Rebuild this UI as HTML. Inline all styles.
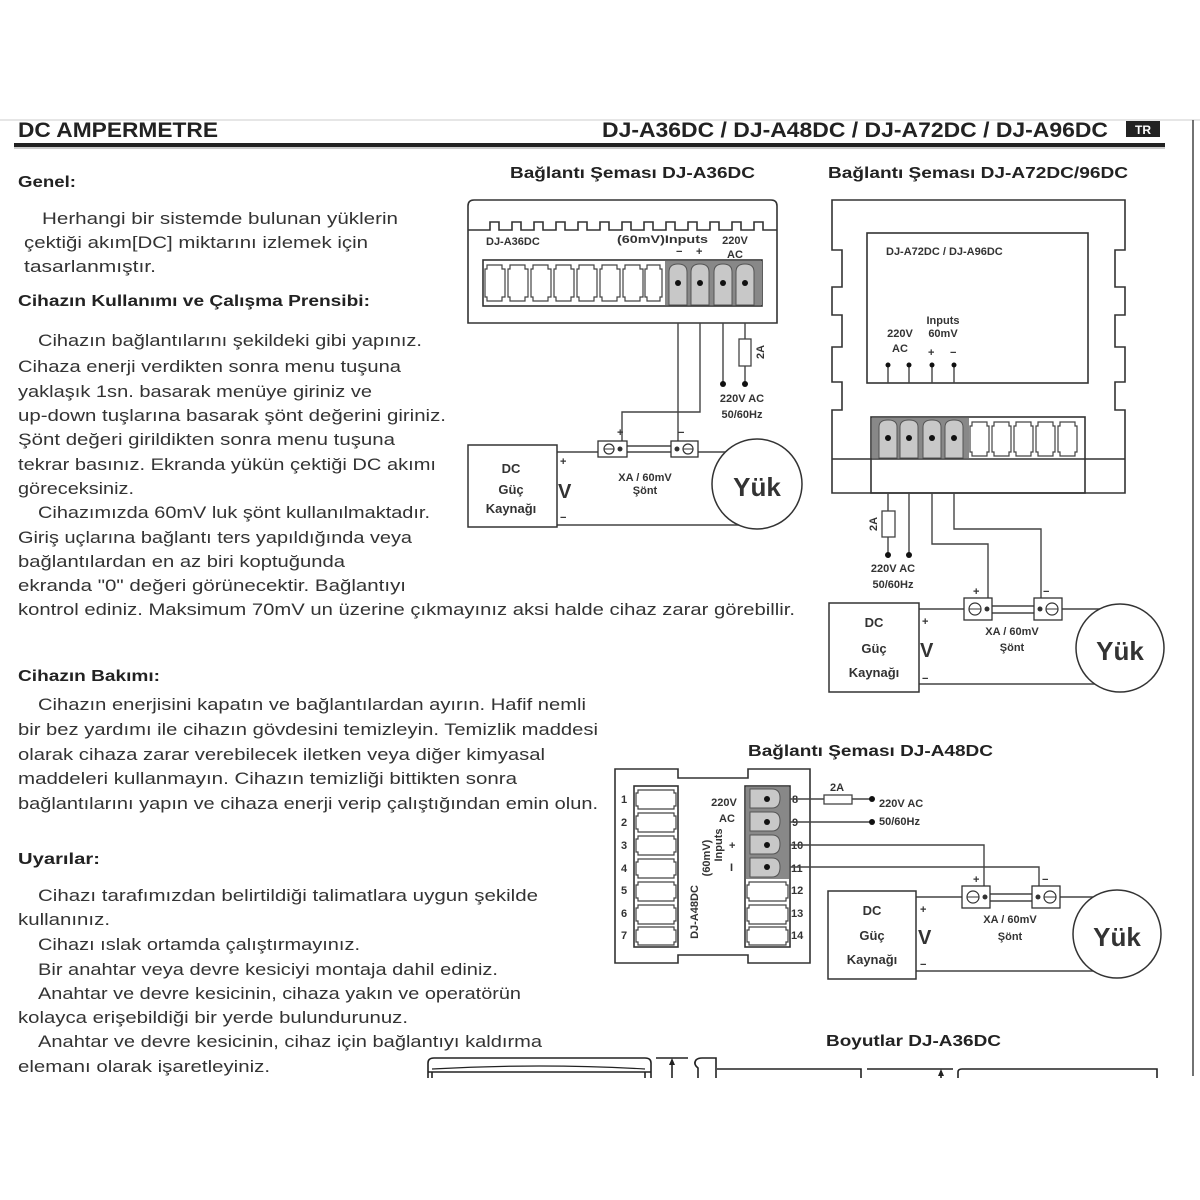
<!DOCTYPE html>
<html><head><meta charset="utf-8"><style>
html,body{margin:0;padding:0;background:#fff}
svg{display:block}
text{font-family:"Liberation Sans",sans-serif}
.b{font-size:17px;fill:#333}
.h{font-size:16px;font-weight:bold;fill:#222}
.t{font-size:16px;font-weight:bold;fill:#222}
.s{font-size:11px;font-weight:bold;fill:#333}
.m{font-size:13px;font-weight:bold;fill:#333}
.ln{stroke:#333;stroke-width:1.6;fill:none}
.w{stroke:#444;stroke-width:1.4;fill:none}
</style></head><body>
<svg width="1200" height="1200" viewBox="0 0 1200 1200" xmlns="http://www.w3.org/2000/svg">
<rect width="1200" height="1200" fill="#fff"/>
<line x1="0" y1="120" x2="1200" y2="120" stroke="#e6e6e6" stroke-width="2"/>
<line x1="1193" y1="120" x2="1193" y2="1076" stroke="#444" stroke-width="1.5"/>
<!-- header -->
<text x="18" y="137" font-size="21" font-weight="bold" fill="#222" textLength="200" lengthAdjust="spacingAndGlyphs">DC AMPERMETRE</text>
<text x="602" y="137" font-size="21" font-weight="bold" fill="#222" textLength="506" lengthAdjust="spacingAndGlyphs">DJ-A36DC / DJ-A48DC / DJ-A72DC / DJ-A96DC</text>
<rect x="1126" y="121" width="34" height="16" fill="#222"/>
<text x="1143" y="134" font-size="12" font-weight="bold" fill="#fff" text-anchor="middle">TR</text>
<rect x="14" y="143" width="1151" height="4" fill="#222"/>
<line x1="14" y1="148" x2="1165" y2="148" stroke="#999" stroke-width="1"/>

<!-- left text -->
<g class="b">
<text class="h" x="18" y="187" textLength="58" lengthAdjust="spacingAndGlyphs">Genel:</text>
<text x="42" y="224" textLength="356" lengthAdjust="spacingAndGlyphs">Herhangi bir sistemde bulunan yüklerin</text>
<text x="24" y="248" textLength="344" lengthAdjust="spacingAndGlyphs">çektiği akım[DC] miktarını izlemek için</text>
<text x="24" y="272" textLength="132" lengthAdjust="spacingAndGlyphs">tasarlanmıştır.</text>
<text class="h" x="18" y="306" textLength="352" lengthAdjust="spacingAndGlyphs">Cihazın Kullanımı ve Çalışma Prensibi:</text>
<text x="38" y="346" textLength="384" lengthAdjust="spacingAndGlyphs">Cihazın bağlantılarını şekildeki gibi yapınız.</text>
<text x="18" y="372" textLength="383" lengthAdjust="spacingAndGlyphs">Cihaza enerji verdikten sonra menu tuşuna</text>
<text x="18" y="397" textLength="354" lengthAdjust="spacingAndGlyphs">yaklaşık 1sn. basarak menüye giriniz ve</text>
<text x="18" y="421" textLength="428" lengthAdjust="spacingAndGlyphs">up-down tuşlarına basarak şönt değerini giriniz.</text>
<text x="18" y="445" textLength="377" lengthAdjust="spacingAndGlyphs">Şönt değeri girildikten sonra menu tuşuna</text>
<text x="18" y="470" textLength="418" lengthAdjust="spacingAndGlyphs">tekrar basınız. Ekranda yükün çektiği DC akımı</text>
<text x="18" y="494" textLength="116" lengthAdjust="spacingAndGlyphs">göreceksiniz.</text>
<text x="38" y="518" textLength="392" lengthAdjust="spacingAndGlyphs">Cihazımızda 60mV luk şönt kullanılmaktadır.</text>
<text x="18" y="543" textLength="394" lengthAdjust="spacingAndGlyphs">Giriş uçlarına bağlantı ters yapıldığında veya</text>
<text x="18" y="567" textLength="327" lengthAdjust="spacingAndGlyphs">bağlantılardan en az biri koptuğunda</text>
<text x="18" y="591" textLength="388" lengthAdjust="spacingAndGlyphs">ekranda "0" değeri görünecektir. Bağlantıyı</text>
<text x="18" y="615" textLength="777" lengthAdjust="spacingAndGlyphs">kontrol ediniz. Maksimum 70mV un üzerine çıkmayınız aksi halde cihaz zarar görebillir.</text>
<text class="h" x="18" y="681" textLength="142" lengthAdjust="spacingAndGlyphs">Cihazın Bakımı:</text>
<text x="38" y="710" textLength="548" lengthAdjust="spacingAndGlyphs">Cihazın enerjisini kapatın ve bağlantılardan ayırın. Hafif nemli</text>
<text x="18" y="735" textLength="580" lengthAdjust="spacingAndGlyphs">bir bez yardımı ile cihazın gövdesini temizleyin. Temizlik maddesi</text>
<text x="18" y="760" textLength="527" lengthAdjust="spacingAndGlyphs">olarak cihaza zarar verebilecek iletken veya diğer kimyasal</text>
<text x="18" y="784" textLength="499" lengthAdjust="spacingAndGlyphs">maddeleri kullanmayın. Cihazın temizliği bittikten sonra</text>
<text x="18" y="809" textLength="580" lengthAdjust="spacingAndGlyphs">bağlantılarını yapın ve cihaza enerji verip çalıştığından emin olun.</text>
<text class="h" x="18" y="864" textLength="82" lengthAdjust="spacingAndGlyphs">Uyarılar:</text>
<text x="38" y="901" textLength="500" lengthAdjust="spacingAndGlyphs">Cihazı tarafımızdan belirtildiği talimatlara uygun şekilde</text>
<text x="18" y="925" textLength="92" lengthAdjust="spacingAndGlyphs">kullanınız.</text>
<text x="38" y="950" textLength="322" lengthAdjust="spacingAndGlyphs">Cihazı ıslak ortamda çalıştırmayınız.</text>
<text x="38" y="975" textLength="460" lengthAdjust="spacingAndGlyphs">Bir anahtar veya devre kesiciyi montaja dahil ediniz.</text>
<text x="38" y="999" textLength="483" lengthAdjust="spacingAndGlyphs">Anahtar ve devre kesicinin, cihaza yakın ve operatörün</text>
<text x="18" y="1023" textLength="390" lengthAdjust="spacingAndGlyphs">kolayca erişebildiği bir yerde bulundurunuz.</text>
<text x="38" y="1047" textLength="504" lengthAdjust="spacingAndGlyphs">Anahtar ve devre kesicinin, cihaz için bağlantıyı kaldırma</text>
<text x="18" y="1072" textLength="252" lengthAdjust="spacingAndGlyphs">elemanı olarak işaretleyiniz.</text>
</g>

<!-- titles -->
<text class="t" x="510" y="178" textLength="245" lengthAdjust="spacingAndGlyphs">Bağlantı Şeması DJ-A36DC</text>
<text class="t" x="828" y="178" textLength="300" lengthAdjust="spacingAndGlyphs">Bağlantı Şeması DJ-A72DC/96DC</text>
<text class="t" x="748" y="756" textLength="245" lengthAdjust="spacingAndGlyphs">Bağlantı Şeması DJ-A48DC</text>
<text class="t" x="826" y="1046" textLength="175" lengthAdjust="spacingAndGlyphs">Boyutlar DJ-A36DC</text>

<!-- ===== A36DC ===== -->
<g>
<path class="ln" d="M468 323 V206 Q468 200 474 200 H771 Q777 200 777 206 V323 Z"/>
<path class="ln" d="M468 230 H490 V222 H499 V230 H512 V222 H521 V230 H534 V222 H543 V230 H556 V222 H565 V230 H578 V222 H587 V230 H600 V222 H609 V230 H622 V222 H631 V230 H644 V222 H653 V230 H666 V222 H675 V230 H688 V222 H697 V230 H710 V222 H719 V230 H732 V222 H741 V230 H754 V222 H763 V230 H777"/>
<rect x="483" y="260" width="279" height="46" class="ln"/>
<g fill="none" stroke="#444" stroke-width="1.2">
<path d="M487 265 h15 v4 h3 v28 h-3 v4 h-15 v-4 h-2 v-28 h2z"/>
<path d="M510 265 h15 v4 h3 v28 h-3 v4 h-15 v-4 h-2 v-28 h2z"/>
<path d="M533 265 h15 v4 h3 v28 h-3 v4 h-15 v-4 h-2 v-28 h2z"/>
<path d="M556 265 h15 v4 h3 v28 h-3 v4 h-15 v-4 h-2 v-28 h2z"/>
<path d="M579 265 h15 v4 h3 v28 h-3 v4 h-15 v-4 h-2 v-28 h2z"/>
<path d="M602 265 h15 v4 h3 v28 h-3 v4 h-15 v-4 h-2 v-28 h2z"/>
<path d="M625 265 h15 v4 h3 v28 h-3 v4 h-15 v-4 h-2 v-28 h2z"/>
<path d="M647 265 h13 v4 h2 v28 h-2 v4 h-13 v-4 h-2 v-28 h2z"/>
</g>
<rect x="665" y="261" width="97" height="44" fill="#888"/>
<g fill="#c8c8c8" stroke="#555" stroke-width="1">
<path d="M669 305 V272 Q669 264 678 264 Q687 264 687 272 V305Z"/>
<path d="M691 305 V272 Q691 264 700 264 Q709 264 709 272 V305Z"/>
<path d="M714 305 V272 Q714 264 723 264 Q732 264 732 272 V305Z"/>
<path d="M736 305 V272 Q736 264 745 264 Q754 264 754 272 V305Z"/>
</g>
<g fill="#111"><circle cx="678" cy="283" r="3"/><circle cx="700" cy="283" r="3"/><circle cx="723" cy="283" r="3"/><circle cx="745" cy="283" r="3"/></g>
<text class="s" x="486" y="245">DJ-A36DC</text>
<text class="s" x="617" y="243" textLength="91" lengthAdjust="spacingAndGlyphs">(60mV)Inputs</text>
<text class="s" x="676" y="255">−</text><text class="s" x="696" y="255">+</text>
<text class="s" x="735" y="244" text-anchor="middle">220V</text>
<text class="s" x="735" y="258" text-anchor="middle">AC</text>
<path class="w" d="M678 323 V452 M700 323 V412 H622 V441 M723 323 V384 M745 323 V384"/>
<rect x="739" y="339" width="12" height="27" fill="#fff" stroke="#444" stroke-width="1.3"/>
<text class="s" x="0" y="0" transform="translate(764,352) rotate(-90)" text-anchor="middle">2A</text>
<circle cx="723" cy="384" r="3" fill="#111"/><circle cx="745" cy="384" r="3" fill="#111"/>
<text class="s" x="742" y="402" text-anchor="middle">220V AC</text>
<text class="s" x="742" y="418" text-anchor="middle">50/60Hz</text>
<text class="s" x="617" y="436">+</text><text class="s" x="678" y="436">−</text>
<path class="w" d="M557 452 H598 M627 446 H671 M627 452 H671 M698 452 H740 M557 525 H757"/>
<rect x="598" y="441" width="29" height="16" fill="#fff" stroke="#333" stroke-width="1.3"/>
<circle cx="609" cy="449" r="5" fill="none" stroke="#333" stroke-width="1.2"/><line x1="604" y1="449" x2="614" y2="449" stroke="#333"/><circle cx="620" cy="449" r="2.5" fill="#333"/>
<rect x="671" y="441" width="27" height="16" fill="#fff" stroke="#333" stroke-width="1.3"/>
<circle cx="688" cy="449" r="5" fill="none" stroke="#333" stroke-width="1.2"/><line x1="683" y1="449" x2="693" y2="449" stroke="#333"/><circle cx="677" cy="449" r="2.5" fill="#333"/>
<text class="s" x="645" y="481" text-anchor="middle">XA / 60mV</text>
<text class="s" x="645" y="494" text-anchor="middle">Şönt</text>
<rect x="468" y="445" width="89" height="82" fill="#fff" stroke="#333" stroke-width="1.5"/>
<text class="m" x="511" y="473" text-anchor="middle" font-size="16">DC</text>
<text class="m" x="511" y="494" text-anchor="middle" font-size="16">Güç</text>
<text class="m" x="511" y="513" text-anchor="middle" font-size="16">Kaynağı</text>
<text class="s" x="560" y="465">+</text>
<text x="558" y="498" font-size="20" font-weight="bold" fill="#333">V</text>
<text class="s" x="560" y="521">−</text>
<circle cx="757" cy="484" r="45" fill="#fff" stroke="#333" stroke-width="1.5"/>
<text x="757" y="496" font-size="26" font-weight="bold" fill="#333" text-anchor="middle">Yük</text>
</g>

<!-- ===== A72DC ===== -->
<g>
<path class="ln" d="M832 200 H1125 V250 H1115 V287 H1125 V315 H1115 V347 H1125 V382 H1115 V410 H1125 V493 H832 V410 H842 V382 H832 V347 H842 V315 H832 V287 H842 V250 H832 Z"/>
<rect x="867" y="233" width="221" height="150" class="ln"/>
<text class="s" x="886" y="255">DJ-A72DC / DJ-A96DC</text>
<text class="s" x="900" y="337" text-anchor="middle">220V</text>
<text class="s" x="900" y="352" text-anchor="middle">AC</text>
<text class="s" x="943" y="324" text-anchor="middle">Inputs</text>
<text class="s" x="943" y="337" text-anchor="middle">60mV</text>
<text class="s" x="928" y="356">+</text><text class="s" x="950" y="356">−</text>
<path class="w" d="M888 365 V383 M909 365 V383 M932 365 V383 M954 365 V383"/>
<g fill="#111"><circle cx="888" cy="365" r="2.5"/><circle cx="909" cy="365" r="2.5"/><circle cx="932" cy="365" r="2.5"/><circle cx="954" cy="365" r="2.5"/></g>
<line class="ln" x1="832" y1="459" x2="1125" y2="459"/>
<rect x="871" y="417" width="214" height="76" class="ln"/>
<rect x="872" y="418" width="97" height="40" fill="#888"/>
<g fill="#c8c8c8" stroke="#555" stroke-width="1">
<path d="M879 458 V427 Q879 420 888 420 Q897 420 897 427 V458Z"/>
<path d="M900 458 V427 Q900 420 909 420 Q918 420 918 427 V458Z"/>
<path d="M923 458 V427 Q923 420 932 420 Q941 420 941 427 V458Z"/>
<path d="M945 458 V427 Q945 420 954 420 Q963 420 963 427 V458Z"/>
</g>
<g fill="#111"><circle cx="888" cy="438" r="3"/><circle cx="909" cy="438" r="3"/><circle cx="932" cy="438" r="3"/><circle cx="954" cy="438" r="3"/></g>
<g fill="none" stroke="#444" stroke-width="1.2">
<path d="M972 422 h15 v4 h2 v26 h-2 v4 h-15 v-4 h-2 v-26 h2z"/>
<path d="M994 422 h15 v4 h2 v26 h-2 v4 h-15 v-4 h-2 v-26 h2z"/>
<path d="M1016 422 h15 v4 h2 v26 h-2 v4 h-15 v-4 h-2 v-26 h2z"/>
<path d="M1038 422 h15 v4 h2 v26 h-2 v4 h-15 v-4 h-2 v-26 h2z"/>
<path d="M1060 422 h15 v4 h2 v26 h-2 v4 h-15 v-4 h-2 v-26 h2z"/>
</g>
<path class="w" d="M888 493 V555 M909 493 V555 M932 493 V544 H988 V598 M954 493 V529 H1041 V598"/>
<rect x="882" y="511" width="13" height="26" fill="#fff" stroke="#444" stroke-width="1.3"/>
<text class="s" x="0" y="0" transform="translate(877,524) rotate(-90)" text-anchor="middle">2A</text>
<circle cx="888" cy="555" r="3" fill="#111"/><circle cx="909" cy="555" r="3" fill="#111"/>
<text class="s" x="893" y="572" text-anchor="middle">220V AC</text>
<text class="s" x="893" y="588" text-anchor="middle">50/60Hz</text>
<text class="s" x="973" y="595">+</text><text class="s" x="1043" y="595">−</text>
<path class="w" d="M919 609 H964 M992 606 H1034 M992 613 H1034 M1062 609 H1105 M919 684 H1115"/>
<rect x="964" y="598" width="28" height="22" fill="#fff" stroke="#333" stroke-width="1.3"/>
<circle cx="975" cy="609" r="6" fill="none" stroke="#333" stroke-width="1.2"/><line x1="969" y1="609" x2="981" y2="609" stroke="#333"/><circle cx="987" cy="609" r="2.5" fill="#333"/>
<rect x="1034" y="598" width="28" height="22" fill="#fff" stroke="#333" stroke-width="1.3"/>
<circle cx="1052" cy="609" r="6" fill="none" stroke="#333" stroke-width="1.2"/><line x1="1046" y1="609" x2="1058" y2="609" stroke="#333"/><circle cx="1040" cy="609" r="2.5" fill="#333"/>
<text class="s" x="1012" y="635" text-anchor="middle">XA / 60mV</text>
<text class="s" x="1012" y="651" text-anchor="middle">Şönt</text>
<rect x="829" y="603" width="90" height="89" fill="#fff" stroke="#333" stroke-width="1.5"/>
<text class="m" x="874" y="627" text-anchor="middle" font-size="16">DC</text>
<text class="m" x="874" y="653" text-anchor="middle" font-size="16">Güç</text>
<text class="m" x="874" y="677" text-anchor="middle" font-size="16">Kaynağı</text>
<text class="s" x="922" y="625">+</text>
<text x="920" y="657" font-size="20" font-weight="bold" fill="#333">V</text>
<text class="s" x="922" y="682">−</text>
<circle cx="1120" cy="648" r="44" fill="#fff" stroke="#333" stroke-width="1.5"/>
<text x="1120" y="660" font-size="26" font-weight="bold" fill="#333" text-anchor="middle">Yük</text>
</g>

<!-- ===== A48DC ===== -->
<g>
<path class="ln" d="M615 769 H678 V778 H748 V769 H810 V963 H748 V955 H678 V963 H615 Z"/>
<rect x="634" y="786" width="44" height="161" class="ln"/>
<rect x="745" y="786" width="45" height="161" class="ln"/>
<g fill="none" stroke="#444" stroke-width="1.2">
<path d="M638 790 h36 v3 h2 v13 h-2 v3 h-36 v-3 h-2 v-13 h2z"/>
<path d="M638 813 h36 v3 h2 v13 h-2 v3 h-36 v-3 h-2 v-13 h2z"/>
<path d="M638 836 h36 v3 h2 v13 h-2 v3 h-36 v-3 h-2 v-13 h2z"/>
<path d="M638 859 h36 v3 h2 v13 h-2 v3 h-36 v-3 h-2 v-13 h2z"/>
<path d="M638 882 h36 v3 h2 v13 h-2 v3 h-36 v-3 h-2 v-13 h2z"/>
<path d="M638 905 h36 v3 h2 v13 h-2 v3 h-36 v-3 h-2 v-13 h2z"/>
<path d="M638 927 h36 v3 h2 v12 h-2 v3 h-36 v-3 h-2 v-12 h2z"/>
<path d="M749 882 h37 v3 h2 v13 h-2 v3 h-37 v-3 h-2 v-13 h2z"/>
<path d="M749 905 h37 v3 h2 v13 h-2 v3 h-37 v-3 h-2 v-13 h2z"/>
<path d="M749 927 h37 v3 h2 v12 h-2 v3 h-37 v-3 h-2 v-12 h2z"/>
</g>
<rect x="746" y="787" width="43" height="92" fill="#888"/>
<g fill="#c8c8c8" stroke="#555" stroke-width="1">
<path d="M750 789 H772 Q780 789 780 798 Q780 808 772 808 H750Z"/>
<path d="M750 812 H772 Q780 812 780 821 Q780 831 772 831 H750Z"/>
<path d="M750 835 H772 Q780 835 780 844 Q780 854 772 854 H750Z"/>
<path d="M750 858 H772 Q780 858 780 867 Q780 877 772 877 H750Z"/>
</g>
<g fill="#111"><circle cx="767" cy="799" r="3"/><circle cx="767" cy="822" r="3"/><circle cx="767" cy="845" r="3"/><circle cx="767" cy="867" r="3"/></g>
<g class="s">
<text x="624" y="803" text-anchor="middle">1</text><text x="624" y="826" text-anchor="middle">2</text><text x="624" y="849" text-anchor="middle">3</text><text x="624" y="872" text-anchor="middle">4</text><text x="624" y="894" text-anchor="middle">5</text><text x="624" y="917" text-anchor="middle">6</text><text x="624" y="939" text-anchor="middle">7</text>
<text x="792" y="803">8</text><text x="792" y="826">9</text><text x="791" y="849">10</text><text x="791" y="872">11</text><text x="791" y="894">12</text><text x="791" y="917">13</text><text x="791" y="939">14</text>
<text x="724" y="806" text-anchor="middle">220V</text><text x="727" y="822" text-anchor="middle">AC</text>
<text x="729" y="849">+</text><text x="730" y="871">I</text>
<text transform="translate(698,912) rotate(-90)" text-anchor="middle">DJ-A48DC</text>
<text transform="translate(710,858) rotate(-90)" text-anchor="middle">(60mV)</text>
<text transform="translate(722,845) rotate(-90)" text-anchor="middle">Inputs</text>
</g>
<path class="w" d="M790 799 H872 M790 822 H872 M790 845 H984 V886 M790 867 H1039 V886"/>
<rect x="824" y="795" width="28" height="9" fill="#fff" stroke="#444" stroke-width="1.3"/>
<text class="s" x="837" y="791" text-anchor="middle">2A</text>
<circle cx="872" cy="799" r="3" fill="#111"/><circle cx="872" cy="822" r="3" fill="#111"/>
<text class="s" x="879" y="807">220V AC</text>
<text class="s" x="879" y="825">50/60Hz</text>
<text class="s" x="973" y="883">+</text><text class="s" x="1042" y="883">−</text>
<path class="w" d="M916 897 H962 M990 894 H1032 M990 901 H1032 M1060 897 H1095 M916 971 H1105"/>
<rect x="962" y="886" width="28" height="22" fill="#fff" stroke="#333" stroke-width="1.3"/>
<circle cx="973" cy="897" r="6" fill="none" stroke="#333" stroke-width="1.2"/><line x1="967" y1="897" x2="979" y2="897" stroke="#333"/><circle cx="985" cy="897" r="2.5" fill="#333"/>
<rect x="1032" y="886" width="28" height="22" fill="#fff" stroke="#333" stroke-width="1.3"/>
<circle cx="1050" cy="897" r="6" fill="none" stroke="#333" stroke-width="1.2"/><line x1="1044" y1="897" x2="1056" y2="897" stroke="#333"/><circle cx="1038" cy="897" r="2.5" fill="#333"/>
<text class="s" x="1010" y="923" text-anchor="middle">XA / 60mV</text>
<text class="s" x="1010" y="940" text-anchor="middle">Şönt</text>
<rect x="828" y="891" width="88" height="88" fill="#fff" stroke="#333" stroke-width="1.5"/>
<text class="m" x="872" y="915" text-anchor="middle" font-size="16">DC</text>
<text class="m" x="872" y="940" text-anchor="middle" font-size="16">Güç</text>
<text class="m" x="872" y="964" text-anchor="middle" font-size="16">Kaynağı</text>
<text class="s" x="920" y="913">+</text>
<text x="918" y="944" font-size="20" font-weight="bold" fill="#333">V</text>
<text class="s" x="920" y="968">−</text>
<circle cx="1117" cy="934" r="44" fill="#fff" stroke="#333" stroke-width="1.5"/>
<text x="1117" y="946" font-size="26" font-weight="bold" fill="#333" text-anchor="middle">Yük</text>
</g>

<!-- bottom partial dimension drawing -->
<g stroke="#222" stroke-width="1.6" fill="none">
<path d="M428 1078 V1063 Q428 1058 434 1058 H645 Q651 1058 651 1063 V1078"/>
<path d="M432 1069 Q540 1063 645 1069" stroke-width="1.2"/>
<path d="M428 1072 H651 M432 1072 V1078 M645 1072 V1078"/>
<path d="M656 1058 H688 M672 1078 V1060"/>
<path d="M698 1078 V1068 Q693 1064 696 1060 Q698 1058 702 1058 H716 V1078"/>
<path d="M717 1069 H861 V1078 M867 1069 H953 M958 1078 V1072 Q958 1069 962 1069 H1157 V1078"/>
<path d="M941 1078 V1071"/>
</g>
<path d="M672 1058 l-3 7 h6z M941 1069 l-3 7 h6z" fill="#222"/>
</svg>
</body></html>
